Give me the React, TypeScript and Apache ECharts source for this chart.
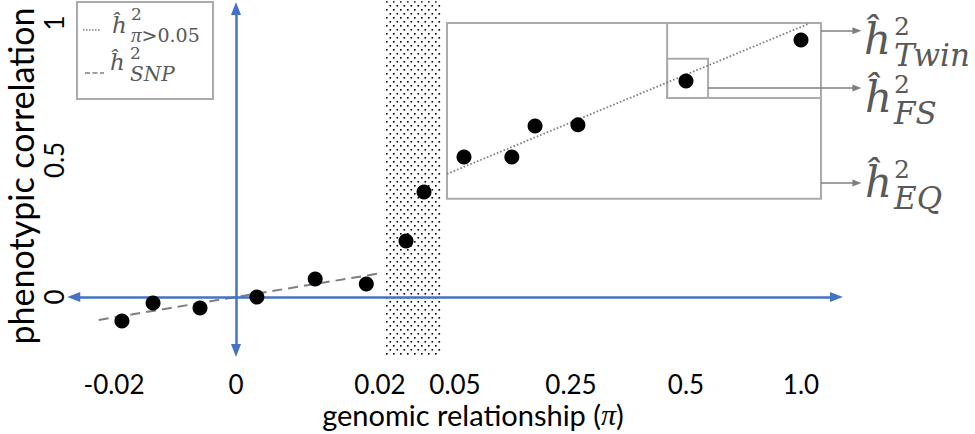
import React, { useEffect, useRef } from "react";
import * as echarts from "echarts";

// Tick values on the (piecewise) genomic-relationship axis and their labels
const xTickValues = [-0.02, 0, 0.02, 0.05, 0.25, 0.5, 1.0];
const xTickLabels = ["-0.02", "0", "0.02", "0.05", "0.25", "0.5", "1.0"];
const yTickValues = [0, 0.5, 1];
const yTickLabels = ["0", "0.5", "1"];

// Observed points: genomic relationship (pi) vs phenotypic correlation
const relationship = [-0.0187, -0.0136, -0.0059, 0.0029, 0.011, 0.0181, 0.0304, 0.0376, 0.0655, 0.148, 0.188, 0.265, 0.5, 1.0];
const correlation = [-0.088, -0.022, -0.04, 0, 0.066, 0.047, 0.204, 0.383, 0.511, 0.511, 0.624, 0.628, 0.788, 0.938];

// Fitted lines
const snpLineX = [-0.0225, 0, 0.0208];
const snpLineY = [-0.084, 0, 0.0876];
const farLineX = [0.0468, 1.03];
const farLineY = [0.449, 0.996];

// Shaded (excluded) band of pi
const shadedBand = [0.022, 0.0444];

// Annotation boxes in data space: EQ, Twin, FS
const boxX0 = [0.0468, 0.459, 0.459];
const boxX1 = [1.087, 1.087, 0.596];
const boxY0 = [0.358, 0.726, 0.726];
const boxY1 = [1.0, 1.0, 0.869];

// Callout arrows (Twin, FS, EQ)
const calloutY = [0.971, 0.763, 0.416];
const calloutFrom = [1.087, 0.596, 1.087];
const calloutTo = 1.243;

// Piecewise scale: axis units of each tick value
const SCALE_POS = [74, 196, 340, 415, 531, 646, 761];
function toAxis(v: number): number {
  const b = xTickValues;
  const p = SCALE_POS;
  let i = 0;
  if (v >= b[b.length - 1]) i = b.length - 2;
  else if (v > b[0]) {
    while (v > b[i + 1]) i++;
  }
  return p[i] + ((v - b[i]) * (p[i + 1] - p[i])) / (b[i + 1] - b[i]);
}

const GRAY_TXT = "#595959";
const GRAY_LINE = "#7F7F7F";
const BOX = "#ABABAB";
const BLUE = "#4472C4";
const MATH = "DejaVu Serif";
const PI_FONT = "Liberation Serif";

function mathLabel(
  hx: number, hBase: number, hSize: number,
  blockX: number, supBase: number, supSize: number, lh: number,
  subText: string, subSize: number, subStyle: any
) {
  const k = 0.346;
  const top = supBase - (lh / 2 + k * supSize);
  return [
    {
      type: "text", x: hx, y: hBase - k * hSize, z: 20,
      style: { text: "ĥ", fontFamily: MATH, fontStyle: "italic", fontSize: hSize, fill: GRAY_TXT, verticalAlign: "middle", align: "left" },
    },
    {
      type: "text", x: blockX, y: top, z: 20,
      style: {
        text: "{s|2}\n" + subText,
        align: "left",
        verticalAlign: "top",
        fontFamily: MATH,
        fontSize: subSize,
        fill: GRAY_TXT,
        rich: {
          s: { fontFamily: MATH, fontSize: supSize, lineHeight: lh, fill: GRAY_TXT },
          ...subStyle,
        },
      },
    },
  ];
}

export default function App() {
  const ref = useRef<HTMLDivElement>(null);
  useEffect(() => {
    const chart = echarts.init(ref.current!, null, { renderer: "svg" });

    const tile = document.createElement("canvas");
    tile.width = 7;
    tile.height = 8;
    const ctx = tile.getContext("2d")!;
    ctx.fillStyle = "#ffffff";
    ctx.fillRect(0, 0, 7, 8);
    ctx.fillStyle = "#000000";
    ctx.fillRect(1, 1, 1.6, 1.6);
    ctx.fillRect(4.5, 5, 1.6, 1.6);

    const points = relationship.map((r, i) => [toAxis(r), correlation[i]]);
    const snp = snpLineX.map((x, i) => [toAxis(x), snpLineY[i]]);
    const far = farLineX.map((x, i) => [toAxis(x), farLineY[i]]);

    const rightSub = (size: number, lh: number) => ({
      t: { fontFamily: MATH, fontStyle: "italic", fontSize: size, lineHeight: lh, fill: GRAY_TXT },
    });

    const option: any = {
      animation: false,
      backgroundColor: "#ffffff",
      grid: { left: 40, right: 100, top: 1, bottom: 68.5 },
      xAxis: {
        type: "value",
        min: 0,
        max: 835,
        axisLine: { show: false },
        axisTick: { show: false },
        splitLine: { show: false },
        axisLabel: {
          customValues: xTickValues.map(toAxis),
          formatter: (v: number) => {
            const i = xTickValues.findIndex((t) => Math.abs(toAxis(t) - v) < 0.5);
            return i >= 0 ? xTickLabels[i] : "";
          },
          fontFamily: "Lato",
          fontSize: 26,
          lineHeight: 26,
          color: "#000",
          margin: 5,
        },
      },
      yAxis: {
        type: "value",
        min: -0.25,
        max: 1.08,
        axisLine: { show: false },
        axisTick: { show: false },
        splitLine: { show: false },
        axisLabel: {
          customValues: yTickValues,
          formatter: (v: number) => {
            const i = yTickValues.findIndex((t) => Math.abs(t - v) < 1e-6);
            return i >= 0 ? yTickLabels[i] : "";
          },
          rotate: 90,
          inside: true,
          margin: 1,
          fontFamily: "Lato",
          fontSize: 26,
          color: "#000",
        },
      },
      series: [
        {
          name: "band",
          type: "line",
          data: [],
          z: 1,
          clip: false,
          silent: true,
          markArea: {
            silent: true,
            itemStyle: { color: { image: tile, repeat: "repeat", imageWidth: 7, imageHeight: 8 } as any },
            data: [[{ coord: [toAxis(shadedBand[0]), 1.079] }, { coord: [toAxis(shadedBand[1]), -0.219] }]],
          },
        },
        {
          name: "boxes",
          type: "line",
          data: [],
          z: 3,
          clip: false,
          silent: true,
          markArea: {
            silent: true,
            itemStyle: { color: "rgba(0,0,0,0)", borderColor: BOX, borderWidth: 2 },
            data: boxX0.map((x0, i) => [
              { coord: [toAxis(x0), boxY1[i]] },
              { coord: [toAxis(boxX1[i]), boxY0[i]] },
            ]),
          },
        },
        {
          name: "callouts",
          type: "line",
          data: [],
          z: 3,
          clip: false,
          silent: true,
          markLine: {
            silent: true,
            symbol: ["none", "triangle"],
            symbolSize: [7, 9],
            label: { show: false },
            lineStyle: { color: GRAY_LINE, width: 1.5, type: "solid" },
            data: calloutY.map((y, i) => [
              { coord: [toAxis(calloutFrom[i]), y] },
              { coord: [toAxis(calloutTo), y] },
            ]),
          },
        },
        {
          name: "h2 SNP",
          type: "line",
          data: snp,
          z: 3,
          showSymbol: false,
          silent: true,
          lineStyle: { color: GRAY_LINE, width: 2, type: [10, 6] },
        },
        {
          name: "h2 pi>0.05",
          type: "line",
          data: far,
          z: 3,
          showSymbol: false,
          silent: true,
          lineStyle: { color: GRAY_LINE, width: 1.8, type: [1.6, 2] },
        },
        {
          name: "axes",
          type: "line",
          data: [],
          z: 4,
          clip: false,
          silent: true,
          markLine: {
            silent: true,
            symbol: ["triangle", "triangle"],
            symbolSize: [10, 13],
            label: { show: false },
            lineStyle: { color: BLUE, width: 2.5, type: "solid" },
            data: [
              [{ coord: [toAxis(-0.0266), 0] }, { coord: [toAxis(1.154), 0] }],
              [{ coord: [toAxis(0), -0.195] }, { coord: [toAxis(0), 1.053] }],
            ],
          },
        },
        {
          name: "points",
          type: "scatter",
          data: points,
          z: 6,
          symbolSize: 15,
          silent: true,
          itemStyle: { color: "#000", opacity: 1 },
        },
      ],
      graphic: [
        {
          type: "rect", z: 10,
          shape: { x: 77, y: 2, width: 136, height: 97 },
          style: { fill: "#fff", stroke: BOX, lineWidth: 2 },
        },
        {
          type: "line", z: 11,
          shape: { x1: 83, y1: 30, x2: 101, y2: 30 },
          style: { stroke: GRAY_LINE, lineWidth: 1.5, lineDash: [1.5, 1.5] },
        },
        {
          type: "line", z: 11,
          shape: { x1: 85, y1: 73, x2: 104, y2: 73 },
          style: { stroke: GRAY_LINE, lineWidth: 1.5, lineDash: [5, 2.5] },
        },
        ...mathLabel(112, 33, 23, 131, 20, 17, 18, "{i|π}{n|>0.05}", 20, {
          i: { fontFamily: PI_FONT, fontStyle: "italic", fontSize: 21, lineHeight: 23, fill: GRAY_TXT },
          n: { fontFamily: MATH, fontSize: 19, lineHeight: 23, fill: GRAY_TXT },
        }),
        ...mathLabel(110, 70, 23, 130, 59, 17, 18, "{t|SNP}", 20, {
          t: { fontFamily: MATH, fontStyle: "italic", fontSize: 20, lineHeight: 23, fill: GRAY_TXT },
        }),
        ...mathLabel(864, 54, 42, 894, 35, 25, 26, "{t|Twin}", 31, rightSub(31, 31)),
        ...mathLabel(865, 112, 42, 894, 93, 25, 26, "{t|FS}", 31, rightSub(31, 31)),
        ...mathLabel(865, 197, 42, 894, 178, 25, 26, "{t|EQ}", 31, rightSub(31, 31)),
        {
          type: "text", x: 20, y: 176, rotation: Math.PI / 2, z: 20,
          style: { text: "phenotypic correlation", fontFamily: "Lato", fontSize: 34, fill: "#000", align: "center", verticalAlign: "middle" },
        },
        {
          type: "text", x: 473, y: 414, z: 20,
          style: {
            text: "{a|genomic relationship (}{b|π}{a|)}",
            align: "center",
            verticalAlign: "middle",
            fontFamily: "Lato",
            fontSize: 29,
            fill: "#000",
            rich: {
              a: { fontFamily: "Lato", fontSize: 29, lineHeight: 29, fill: "#000" },
              b: { fontFamily: PI_FONT, fontStyle: "italic", fontSize: 30, lineHeight: 29, fill: "#000" },
            },
          },
        },
      ],
    };

    chart.setOption(option);
    return () => chart.dispose();
  }, []);
  return <div ref={ref} style={{ position: "fixed", left: 0, top: 0, width: 975, height: 434 }} />;
}
